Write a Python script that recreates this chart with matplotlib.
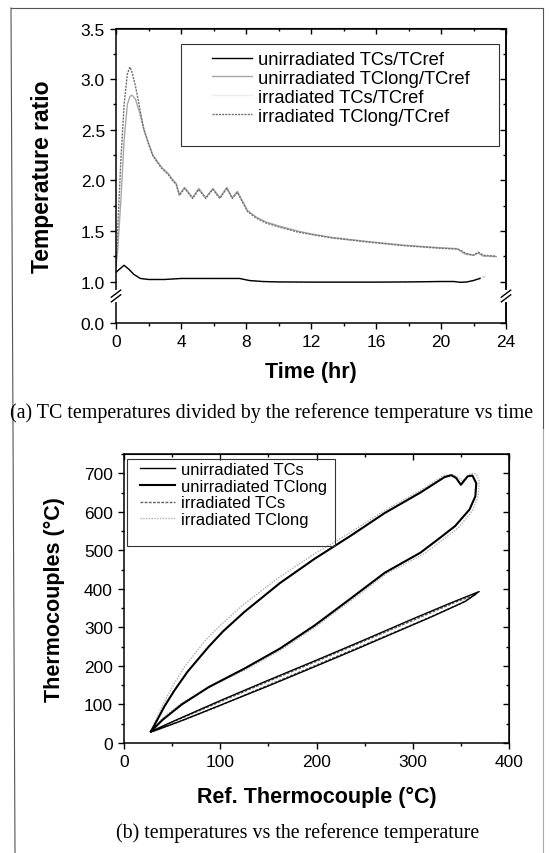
import numpy as np
import matplotlib
matplotlib.use("Agg")
import matplotlib.pyplot as plt
from matplotlib.ticker import FixedLocator, MultipleLocator
from matplotlib.lines import Line2D
from matplotlib.patches import Rectangle

plt.rcParams['font.family'] = ['Liberation Sans', 'DejaVu Sans']

#panel (a): temperature ratio vs time
t_short = [0, 0.2, 0.5, 0.8, 1.1, 1.5, 2.0, 3.0, 4.0, 5.0, 6.0, 7.0, 7.6, 8.2, 9.0, 10, 12, 14, 16, 18, 20, 20.8, 21.2, 21.6, 22.0, 22.4]
unirr_short = [1.09, 1.12, 1.16, 1.12, 1.07, 1.03, 1.02, 1.02, 1.03, 1.03, 1.03, 1.03, 1.03, 1.01, 1.0, 0.99, 0.985, 0.985, 0.985, 0.99, 1.0, 1.0, 0.98, 0.99, 1.01, 1.03]
t_short_irr = [0, 0.2, 0.5, 0.8, 1.1, 1.5, 2.0, 3.0, 4.0, 5.0, 6.0, 7.0, 7.6, 8.2, 9.0, 10, 12, 14, 16, 18, 20, 20.8, 21.2, 21.6, 22.0, 22.4, 22.8]
irr_short = [1.09, 1.12, 1.16, 1.12, 1.07, 1.03, 1.02, 1.02, 1.03, 1.03, 1.03, 1.03, 1.03, 1.01, 1.0, 0.99, 0.985, 0.985, 0.985, 0.99, 1.0, 1.0, 0.98, 0.99, 1.01, 1.04, 1.05]

t_long = [0, 0.1, 0.3, 0.5, 0.7, 0.86, 1.0, 1.2, 1.45, 1.72, 2.0, 2.27, 2.8, 3.2, 3.47, 3.7, 3.9,
          4.22, 4.72, 5.09, 5.52, 5.96, 6.39, 6.82, 7.15, 7.47, 7.8, 8.1, 8.6, 9.2, 10, 11.15, 12,
          13.3, 15.5, 17.65, 19.8, 21.0, 21.2, 21.5, 22.0, 22.3, 22.6, 23.0, 23.4]
irr_long = [1.15, 1.5, 2.2, 2.75, 3.05, 3.12, 3.06, 2.93, 2.72, 2.5, 2.36, 2.24, 2.12, 2.06, 2.0, 1.96, 1.85,
            1.92, 1.82, 1.91, 1.82, 1.91, 1.82, 1.92, 1.82, 1.88, 1.78, 1.69, 1.63, 1.58, 1.54, 1.49, 1.465,
            1.43, 1.39, 1.355, 1.33, 1.32, 1.31, 1.28, 1.26, 1.29, 1.26, 1.255, 1.25]
unirr_long = [1.15, 1.3, 1.8, 2.4, 2.75, 2.83, 2.84, 2.8, 2.67, 2.5, 2.37, 2.25, 2.13, 2.07, 2.01, 1.97, 1.86,
              1.93, 1.83, 1.92, 1.83, 1.92, 1.83, 1.93, 1.83, 1.89, 1.79, 1.70, 1.64, 1.59, 1.55, 1.50, 1.47,
              1.435, 1.395, 1.36, 1.335, 1.325, 1.30, 1.27, 1.26, 1.28, 1.25, 1.25, 1.245]

labels_a = ["unirradiated TCs/TCref", "unirradiated TClong/TCref", "irradiated TCs/TCref", "irradiated TClong/TCref"]

#panel (b): thermocouples vs reference thermocouple
ref_unirr_long = [28, 35, 42, 52, 66, 88, 103, 125, 162, 198, 235, 271, 308, 333, 340, 345, 350, 357, 362, 366,
                  365, 359, 344, 326, 308, 271, 235, 198, 162, 125, 88, 60, 40, 28]
tc_unirr_long = [30, 62, 95, 135, 185, 250, 290, 340, 415, 478, 537, 597, 650, 690, 695, 688, 670, 692, 694, 674,
                 640, 606, 563, 528, 494, 442, 374, 305, 245, 193, 145, 100, 60, 30]
ref_irr_long = [28, 34, 41, 50, 63, 85, 100, 122, 160, 196, 233, 270, 307, 332, 342, 352, 360, 366, 369,
                368, 362, 348, 330, 311, 273, 237, 200, 164, 127, 90, 60, 40, 28]
tc_irr_long = [30, 66, 102, 145, 198, 268, 305, 355, 428, 488, 543, 602, 654, 694, 697, 680, 700, 698, 680,
               640, 603, 560, 525, 490, 440, 372, 303, 243, 191, 147, 104, 64, 30]
ref_unirr_short = [28, 50, 100, 150, 200, 250, 300, 340, 369, 355, 320, 280, 240, 200, 150, 100, 60, 30]
tc_unirr_short = [30, 55, 110, 163, 215, 268, 322, 364, 393, 368, 328, 285, 242, 200, 148, 98, 58, 30]
ref_irr_short = [30, 52, 100, 150, 200, 250, 300, 345, 365, 350, 310, 270, 230, 190, 140, 95, 55, 30]
tc_irr_short = [31, 56, 107, 160, 212, 265, 318, 366, 385, 362, 318, 276, 234, 192, 140, 92, 53, 31]

labels_b = ["unirradiated TCs", "unirradiated TClong", "irradiated TCs", "irradiated TClong"]

W, H = 550, 854
fig = plt.figure(figsize=(W/100, H/100), dpi=100)

#pixel box -> figure fraction
def fig_box(x0, y0, x1, y1):
    return [x0/W, 1 - y1/H, (x1 - x0)/W, (y1 - y0)/H]

#broken y axis: 0..1 squeezed
gap = 0.41
def fwd(y):
    y = np.asarray(y, dtype=float)
    return np.where(y >= 1, y, 1 - (1 - y)*gap)
def inv(z):
    z = np.asarray(z, dtype=float)
    return np.where(z >= 1, z, 1 - (1 - z)/gap)

tick_fs = 12.5
lab_fs = 15.5

# ---------------- panel (a)
ax1 = fig.add_axes(fig_box(116, 29.5, 506, 324))
ax1.plot(t_short_irr, irr_short, color='#c8c8c8', lw=1.0, dashes=(2, 1))
ax1.plot(t_short, unirr_short, color='black', lw=1.0)
ax1.plot(t_long, unirr_long, color='#a8a8a8', lw=1.0)
ax1.plot(t_long, irr_long, color='#707070', lw=1.0, dashes=(1.5, 0.8))

ax1.set_yscale('function', functions=(fwd, inv))
ax1.set_xlim(0, 24)
ax1.set_ylim(0, 3.5)
yt = [0, 1, 1.5, 2, 2.5, 3, 3.5]
ax1.set_yticks(yt)
ax1.set_yticklabels(["%.1f" % v for v in yt])
ax1.yaxis.set_minor_locator(FixedLocator([1.25, 1.75, 2.25, 2.75, 3.25]))
ax1.set_xticks(range(0, 25, 4))
ax1.xaxis.set_minor_locator(MultipleLocator(2))
ax1.tick_params(which='both', direction='out', width=1, labelsize=tick_fs)
ax1.tick_params(which='major', length=4.5)
ax1.tick_params(which='minor', length=2.5)
for s in ax1.spines.values():
    s.set_linewidth(1.1)

ax1.set_xlabel("Time (hr)", fontsize=lab_fs, fontweight='bold')
ax1.set_ylabel("Temperature ratio", fontsize=16.5, fontweight='bold')
ax1.xaxis.label.set_va('center')
ax1.yaxis.label.set_va('center')
ax1.xaxis.set_label_coords(0.5, -(373 - 324)/294.5)
ax1.yaxis.set_label_coords((43 - 116)/390, 0.5)

#top and right ticks pointing in
top1 = ax1.secondary_xaxis('top')
top1.set_xticks(range(0, 25, 4))
top1.xaxis.set_minor_locator(MultipleLocator(2))
top1.tick_params(which='both', direction='in', labeltop=False, width=1)
top1.tick_params(which='major', length=4.5)
top1.tick_params(which='minor', length=2.5)

axr = ax1.twinx()
axr.set_yscale('function', functions=(fwd, inv))
axr.set_ylim(0, 3.5)
axr.set_yticks(yt)
axr.yaxis.set_minor_locator(FixedLocator([1.25, 1.75, 2.25, 2.75, 3.25]))
axr.tick_params(which='both', direction='in', labelright=False, width=1)
axr.tick_params(which='major', length=4.5)
axr.tick_params(which='minor', length=2.5)
for k in ['left', 'top', 'bottom']:
    axr.spines[k].set_visible(False)
axr.spines['right'].set_linewidth(1.1)

#break marks
yb = (324 - 297)/294.5
for xs in (0, 1):
    axr.plot([xs, xs], [yb - 0.012, yb + 0.012], color='white', lw=3, transform=axr.transAxes,
             clip_on=False, zorder=10)
    for off in (-0.008, 0.008):
        axr.plot([xs - 0.012, xs + 0.012], [yb + off - 0.012, yb + off + 0.012], color='black', lw=1.0,
                 transform=axr.transAxes, clip_on=False, zorder=11)

#legend (a)
leg_handles_a = [Line2D([], [], color='black', lw=1.0),
                 Line2D([], [], color='#a8a8a8', lw=1.0),
                 Line2D([], [], color='#eeeeee', lw=1.0),
                 Line2D([], [], color='#707070', lw=1.0, dashes=(1.5, 0.8))]
axr.add_patch(Rectangle(((181 - 116)/390, (324 - 147)/294.5), (499 - 181)/390, (147 - 45)/294.5,
                        transform=axr.transAxes, fill=False, ec='#333333', lw=0.8, zorder=5))
axr.legend(leg_handles_a, labels_a, loc='upper left', frameon=False, fontsize=13.2,
           bbox_to_anchor=((212 - 116)/390, (324 - 52)/294.5), borderpad=0, borderaxespad=0,
           handlelength=2.2, handletextpad=0.33, labelspacing=0.1)

# ---------------- panel (b)
ax2 = fig.add_axes(fig_box(124, 455, 509, 744))
ax2.plot(ref_irr_long, tc_irr_long, color='#b0b0b0', lw=1.0, dashes=(1, 1))
ax2.plot(ref_irr_short, tc_irr_short, color='#606060', lw=1.0, dashes=(2, 1))
ax2.plot(ref_unirr_short, tc_unirr_short, color='black', lw=1.0)
ax2.plot(ref_unirr_long, tc_unirr_long, color='black', lw=1.5)
ax2.set_xlim(0, 400)
ax2.set_ylim(0, 750)
ax2.set_xticks(range(0, 401, 100))
ax2.set_yticks(range(0, 701, 100))
ax2.xaxis.set_minor_locator(MultipleLocator(50))
ax2.yaxis.set_minor_locator(MultipleLocator(50))
ax2.tick_params(which='both', direction='out', width=1, labelsize=tick_fs)
ax2.tick_params(which='major', length=4.5)
ax2.tick_params(which='minor', length=2.5)
for s in ax2.spines.values():
    s.set_linewidth(1.1)
ax2.set_xlabel("Ref. Thermocouple (°C)", fontsize=lab_fs, fontweight='bold')
ax2.set_ylabel("Thermocouples (°C)", fontsize=lab_fs, fontweight='bold')
ax2.xaxis.label.set_va('center')
ax2.yaxis.label.set_va('center')
ax2.xaxis.set_label_coords(0.5, -(797 - 744)/289)
ax2.yaxis.set_label_coords((54 - 124)/385, 0.5)

top2 = ax2.secondary_xaxis('top')
top2.set_xticks(range(0, 401, 100))
top2.xaxis.set_minor_locator(MultipleLocator(50))
right2 = ax2.secondary_yaxis('right')
right2.set_yticks(range(0, 701, 100))
right2.yaxis.set_minor_locator(MultipleLocator(50))
for sa in (top2, right2):
    sa.tick_params(which='both', direction='in', labeltop=False, labelright=False, width=1)
    sa.tick_params(which='major', length=4.5)
    sa.tick_params(which='minor', length=2.5)

leg_handles_b = [Line2D([], [], color='black', lw=1.0),
                 Line2D([], [], color='black', lw=1.5),
                 Line2D([], [], color='#606060', lw=1.0, dashes=(2, 1)),
                 Line2D([], [], color='#b0b0b0', lw=1.0, dashes=(1, 1))]
ax2.add_patch(Rectangle(((127 - 124)/385, (744 - 547)/289), (335 - 127)/385, (547 - 460)/289,
                        transform=ax2.transAxes, fill=False, ec='#333333', lw=0.8, zorder=5))
ax2.legend(leg_handles_b, labels_b, loc='upper left', frameon=False, fontsize=11.9,
           bbox_to_anchor=((140 - 124)/385, (744 - 463)/289), borderpad=0, borderaxespad=0,
           handlelength=2.1, handletextpad=0.4, labelspacing=0.1)

# ---------------- captions and page frame
fig.text(272/W, 1 - 413/H, "(a) TC temperatures divided by the reference temperature vs time",
         ha='center', va='center', family='Liberation Serif', fontsize=14.4)
fig.text(298/W, 1 - 833/H, "(b) temperatures vs the reference temperature",
         ha='center', va='center', family='Liberation Serif', fontsize=14.4)

def page_line(x0, y0, x1, y1, c='#555555', lw=0.8):
    fig.add_artist(Line2D([x0/W, x1/W], [1 - y0/H, 1 - y1/H], color=c, lw=lw))

page_line(11, 9, 543, 9)
page_line(11, 9, 15, 854)
page_line(543, 9, 543, 430)
page_line(543, 430, 543, 854, c='#aaaaaa')

fig.savefig("out.png", dpi=100)
